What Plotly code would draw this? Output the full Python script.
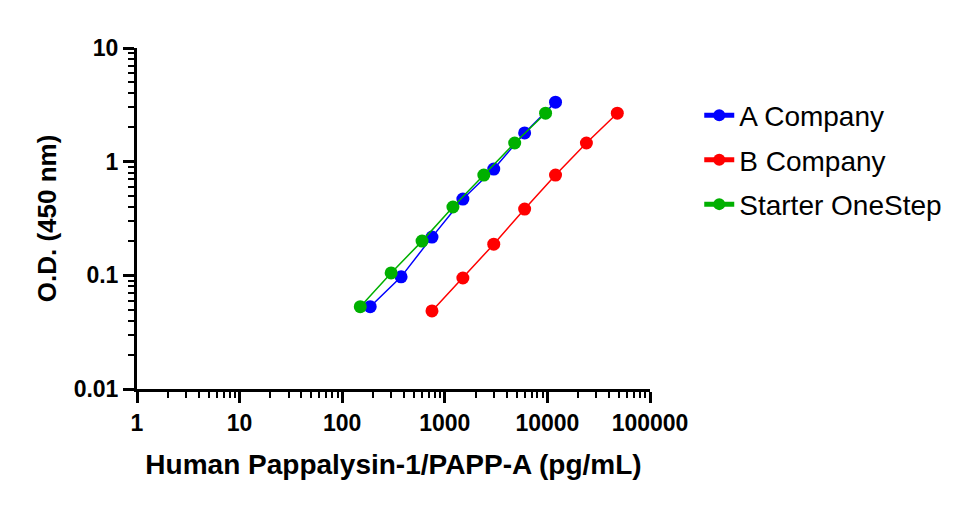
import plotly.graph_objects as go

a_x = [187.5, 375, 750, 1500, 3000, 6000, 12000]
a_y = [0.053, 0.097, 0.217, 0.469, 0.861, 1.79, 3.34]
b_x = [750, 1500, 3000, 6000, 12000, 24000, 48000]
b_y = [0.0486, 0.0947, 0.188, 0.383, 0.762, 1.46, 2.67]
s_x = [150, 300, 600, 1200, 2400, 4800, 9600]
s_y = [0.053, 0.105, 0.200, 0.399, 0.762, 1.46, 2.67]

series = [
    ("A Company", a_x, a_y, "#0000FF"),
    ("B Company", b_x, b_y, "#FF0000"),
    ("Starter OneStep", s_x, s_y, "#00B000"),
]

fig = go.Figure()
for name, xs, ys, col in series:
    fig.add_trace(go.Scatter(
        x=xs, y=ys, name=name, mode="lines+markers", legendgroup=name,
        line=dict(color=col, width=1.5),
        marker=dict(color=col, size=13),
    ))

font_family = "Liberation Sans, Arial, sans-serif"
fig.update_layout(
    width=969, height=507,
    margin=dict(l=129, r=327, t=40, b=126),
    paper_bgcolor="white", plot_bgcolor="white",
    font=dict(family=font_family, color="black"),
    showlegend=True,
    legend=dict(x=1.096, y=0.875, xanchor="left", yanchor="top",
                font=dict(size=28, family=font_family),
                itemsizing="constant", tracegroupgap=5, traceorder="grouped",
                bgcolor="rgba(0,0,0,0)"),
)
fig.update_xaxes(
    type="log", range=[0, 5],
    tickvals=[1, 10, 100, 1000, 10000, 100000],
    ticktext=["1", "10", "100", "1000", "10000", "100000"],
    showgrid=False, zeroline=False,
    showline=True, linecolor="black", linewidth=3,
    ticks="outside", ticklen=11, tickwidth=3, tickcolor="black",
    tickfont=dict(size=23, family=font_family, weight="bold"),
    minor=dict(ticks="outside", ticklen=6, tickwidth=2, tickcolor="black", dtick="D1", showgrid=False),
    title=dict(text="<b>Human Pappalysin-1/PAPP-A (pg/mL)</b>", font=dict(size=28), standoff=20),
)
fig.update_yaxes(
    type="log", range=[-2, 1],
    tickvals=[0.01, 0.1, 1, 10],
    ticktext=["0.01", "0.1", "1", "10"],
    showgrid=False, zeroline=False,
    showline=True, linecolor="black", linewidth=3,
    ticks="outside", ticklen=11, tickwidth=3, tickcolor="black",
    tickfont=dict(size=23, family=font_family, weight="bold"),
    minor=dict(ticks="outside", ticklen=6, tickwidth=2, tickcolor="black", dtick="D1", showgrid=False),
    title=dict(text="<b>O.D. (450 nm)</b>", font=dict(size=26), standoff=10),
)

fig.write_html("out.html")
